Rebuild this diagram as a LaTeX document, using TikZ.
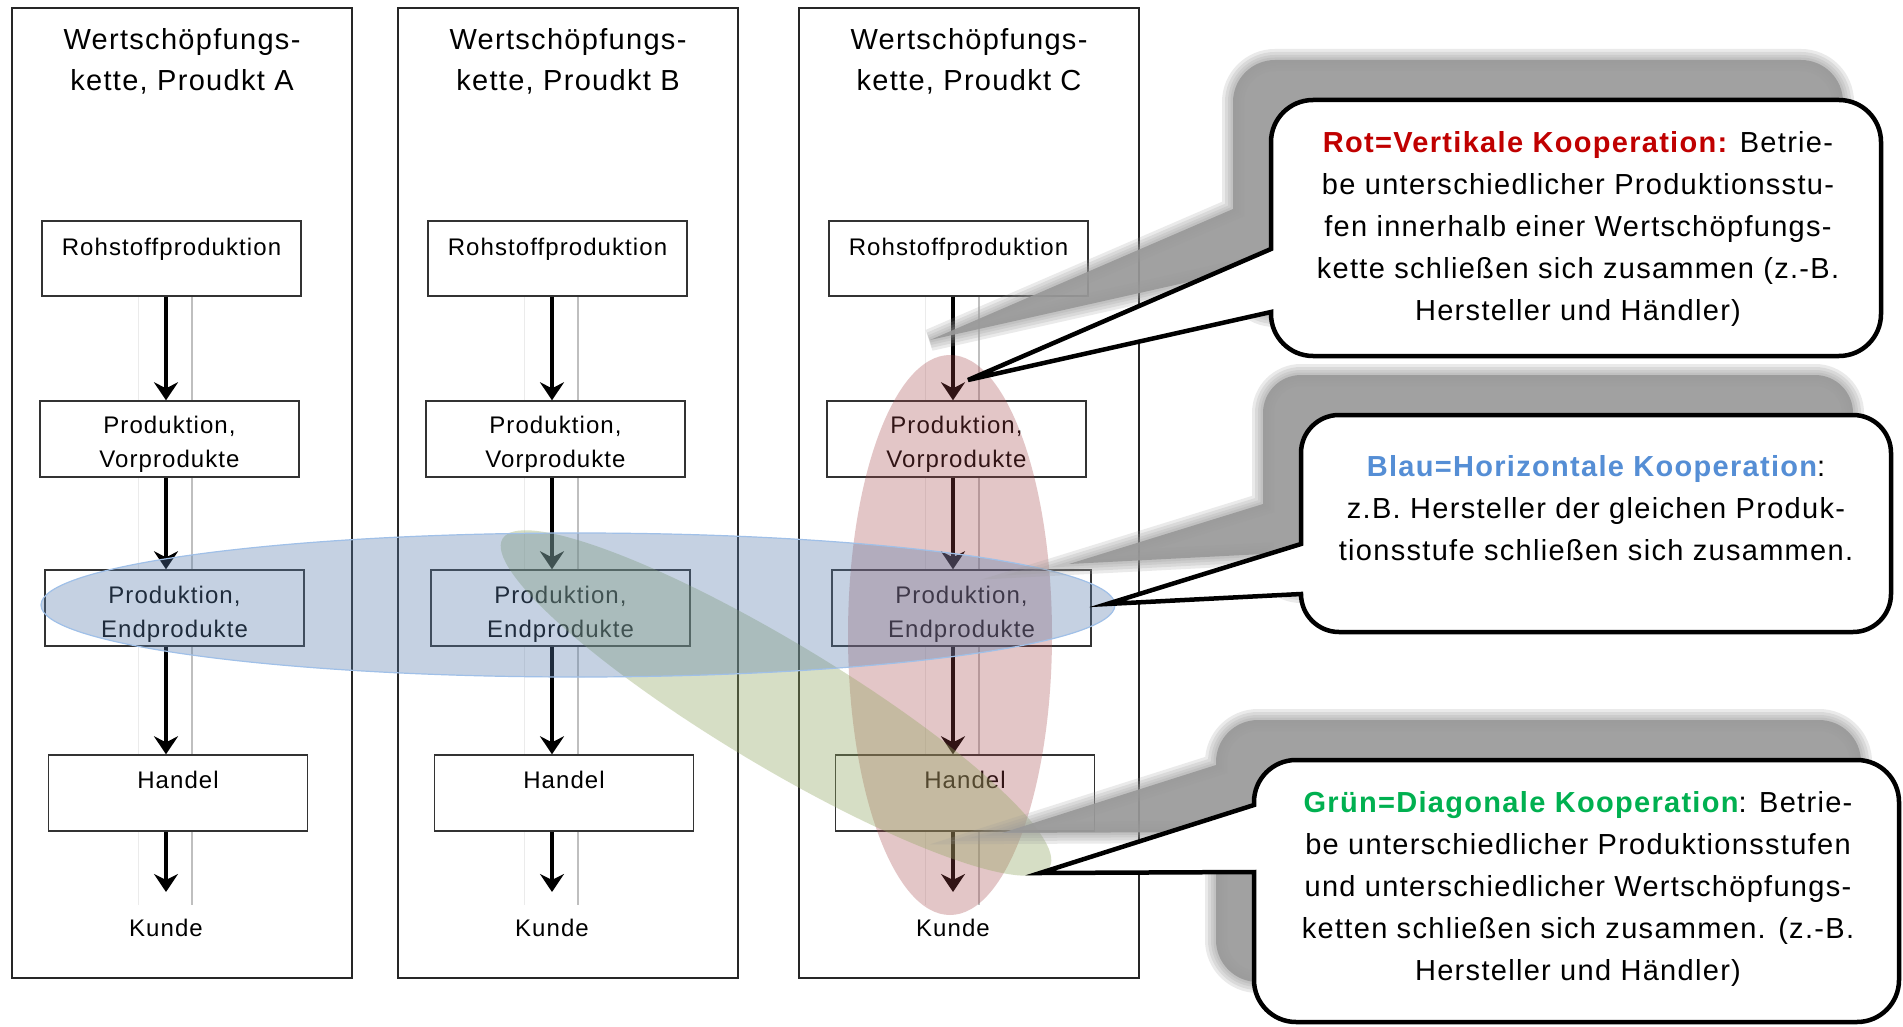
\documentclass[tikz,border=0pt]{standalone}
\usepackage{fontspec}
\setmainfont{Liberation Sans}[LetterSpace=4.5]
\usetikzlibrary{arrows.meta}
\definecolor{rotK}{RGB}{192,0,0}
\definecolor{blauK}{RGB}{85,142,213}
\definecolor{gruenK}{RGB}{0,176,80}
\definecolor{ellR}{RGB}{165,68,72}
\definecolor{ellB}{RGB}{89,126,172}
\definecolor{ellBline}{RGB}{160,192,232}
\definecolor{ellG}{RGB}{144,166,95}
\newcommand\bubblepath[8]{%
 (#1/2+#3/2,#2) -- (#3-#5,#2)
 .. controls (#3-0.448*#5,#2) and (#3,#2+0.448*#5) .. (#3,#2+#5)
 -- (#3,#4-#5)
 .. controls (#3,#4-0.448*#5) and (#3-0.448*#5,#4) .. (#3-#5,#4)
 -- (#1+#5,#4)
 .. controls (#1+0.448*#5,#4) and (#1,#4-0.448*#5) .. (#1,#4-#5)
 -- (#1,#7) -- (#8) -- (#1,#6) -- (#1,#2+#5)
 .. controls (#1,#2+0.448*#5) and (#1+0.448*#5,#2) .. (#1+#5,#2)
 -- cycle}
\begin{document}
\begin{tikzpicture}[x=1pt,y=-1pt,
  colbox/.style={draw=black!85, line width=1.2pt, minimum width=340pt, minimum height=970pt, inner sep=0pt},
  coltitle/.style={font=\fontsize{29}{41}\selectfont, align=center},
  stage/.style={draw=black!80, line width=1.4pt, fill=white, inner xsep=0pt, inner ysep=0pt, font=\fontsize{24}{34}\selectfont, minimum width=259pt},
  flow/.style={line width=4.5pt, -{Stealth[length=18pt,width=24pt,inset=6pt]}},
  guideL/.style={black!8, line width=1pt},
  guideR/.style={black!25, line width=1.2pt},
  kunde/.style={font=\fontsize{24}{34}\selectfont, inner xsep=0pt, inner ysep=27pt},
  bubble/.style={draw=black, line width=4.5pt, fill=white},
  bubbletext/.style={font=\fontsize{29}{42}\selectfont, align=center},
  shadowfill/.style={fill=black!40, opacity=0.92},
  shadowhalo/.style={draw=black!40, line width=#1, opacity=0.2}
]
\fill[white] (0,0) rectangle (1903,1027);
\useasboundingbox (0,0) rectangle (1903,1027);

% columns
\foreach \c/\dx in {A/0,B/386,C/787}{
  \node[colbox] (col\c) at (182+\dx,493) {};
  \node[coltitle] (t\c) at (182+\dx,61) {Wertschöpfungs-\\kette, Proudkt \c};
  \draw[guideL] (138+\dx,296) -- (138+\dx,905);
  \draw[guideR] (192+\dx,296) -- (192+\dx,905);
  \node[stage, text height=34pt, text depth=41pt] (r\c) at (171.5+\dx,258.5) {Rohstoffproduktion};
  \node[stage, minimum height=76pt, align=center] (v\c) at (169.5+\dx,439) {\rule{0pt}{28pt}Produktion,\\Vorprodukte};
  \node[stage, minimum height=76pt, align=center] (e\c) at (174.5+\dx,608) {\rule{0pt}{29pt}Produktion,\\Endprodukte};
  \node[stage, text height=33pt, text depth=43pt] (h\c) at (178+\dx,793) {Handel};
  \node[kunde] (k\c) at (166+\dx,928) {Kunde};
  \draw[flow] (r\c.south -| k\c) -- (v\c.north -| k\c);
  \draw[flow] (v\c.south -| k\c) -- (e\c.north -| k\c);
  \draw[flow] (e\c.south -| k\c) -- (h\c.north -| k\c);
  \draw[flow] (h\c.south -| k\c) -- (k\c.north);
}

% cooperation ellipses
\fill[ellR, opacity=0.3] (950,635) ellipse (102pt and 280pt);
\fill[ellG, opacity=0.36, rotate around={-31:(776,703)}] (776,703) ellipse (319pt and 62pt);
\fill[ellB, opacity=0.35] (578,605) ellipse (537pt and 72pt);
\draw[ellBline, line width=1.2pt] (578,605) ellipse (537pt and 72pt);

\coordinate (tipR) at (968,380);
\coordinate (tipB) at (1107,604);
\coordinate (tipG) at (1040,873);

% shadows
\begin{scope}[shift={(-38,-40)}]
  \foreach \w in {22pt,16pt,10pt,5pt}{
    \path[shadowhalo=\w] \bubblepath{1271}{100}{1881}{356}{42}{249}{312}{968,380};
    \path[shadowhalo=\w] \bubblepath{1301}{415}{1891}{632}{38}{544}{594}{1107,604};
    \path[shadowhalo=\w] \bubblepath{1254}{760}{1899}{1022}{42}{805}{872}{1040,873};
  }
  \path[shadowfill] \bubblepath{1271}{100}{1881}{356}{42}{249}{312}{968,380};
  \path[shadowfill] \bubblepath{1301}{415}{1891}{632}{38}{544}{594}{1107,604};
  \path[shadowfill] \bubblepath{1254}{760}{1899}{1022}{42}{805}{872}{1040,873};
\end{scope}

% callouts
\path[bubble] \bubblepath{1271}{100}{1881}{356}{42}{249}{312}{tipR};
\path[bubble] \bubblepath{1301}{415}{1891}{632}{38}{544}{594}{tipB};
\path[bubble] \bubblepath{1254}{760}{1899}{1022}{42}{805}{872}{tipG};

\node[bubbletext] (c1) at (1578,229) {{\bfseries\color{rotK}Rot=Vertikale Kooperation:} Betrie-\\be unterschiedlicher Produktionsstu-\\fen innerhalb einer Wertschöpfungs-\\kette schließen sich zusammen (z.-B.\\Hersteller und Händler)};
\node[bubbletext] (c2) at (1596,508) {{\bfseries\color{blauK}Blau=Horizontale Kooperation}:\\z.B. Hersteller der gleichen Produk-\\tionsstufe schließen sich zusammen.};
\node[bubbletext] (c3) at (1578,889) {{\bfseries\color{gruenK}Grün=Diagonale Kooperation}: Betrie-\\be unterschiedlicher Produktionsstufen\\und unterschiedlicher Wertschöpfungs-\\ketten schließen sich zusammen. (z.-B.\\Hersteller und Händler)};
\end{tikzpicture}
\end{document}
